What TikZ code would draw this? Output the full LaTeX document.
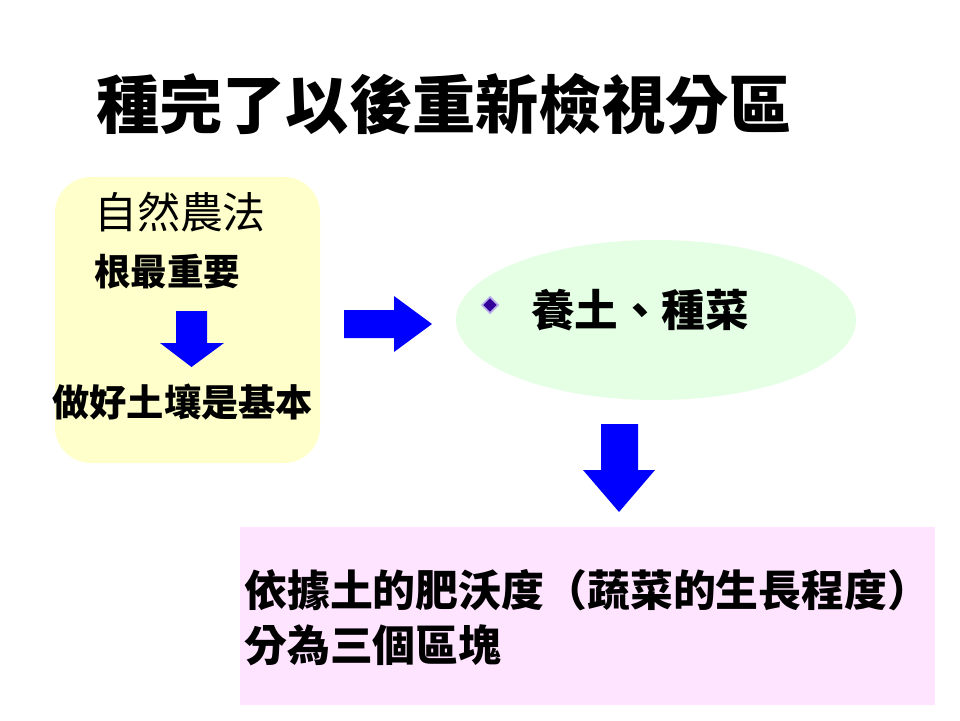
\documentclass[tikz,border=0pt]{standalone}
\usepackage{fontspec}
\usepackage{xcolor}
\usetikzlibrary{shapes.geometric}
\newfontfamily\cjk{Noto Sans CJK TC}
\definecolor{paleyellow}{RGB}{255,255,204}
\definecolor{palegreen}{RGB}{228,255,228}
\definecolor{palepink}{RGB}{255,228,255}
\definecolor{bulletfill}{RGB}{51,0,153}
\definecolor{bulletedge}{RGB}{185,175,235}

\begin{document}
\begin{tikzpicture}[
    every node/.style={font=\cjk},
    bigArrow/.style={fill=blue, draw=none},
    label/.style={font=\cjk\bfseries, inner sep=0pt}
]
\useasboundingbox (0,0) rectangle (24,18);

% title
\node[label, font=\cjk\bfseries\fontsize{45}{50}\selectfont] (title) at (11.1,15.4) {種完了以後重新檢視分區};

% left box
\node[rectangle, rounded corners=0.9cm, fill=paleyellow, minimum width=6.625cm, minimum height=7.15cm] (leftbox) at (4.6875,10) {};
\node[inner sep=0pt, font=\cjk\fontsize{30.5}{34}\selectfont] (natural) at (4.5,12.7) {自然農法};
\node[label, font=\cjk\bfseries\fontsize{26}{30}\selectfont] (root) at (4.18,11.2) {根最重要};
\node[label, font=\cjk\bfseries\fontsize{26.5}{30}\selectfont] (soil) at (4.57,7.95) {做好土壤是基本};
\fill[bigArrow] (4.4,10.225) -- (5.175,10.225) -- (5.175,9.425) -- (5.6,9.425)
    -- (4.7875,8.825) -- (4.0,9.425) -- (4.4,9.425) -- cycle;

% right arrow
\fill[bigArrow] (8.6,10.25) -- (9.85,10.25) -- (9.85,10.6) -- (10.8,9.9)
    -- (9.85,9.2) -- (9.85,9.55) -- (8.6,9.55) -- cycle;

% ellipse
\node[ellipse, fill=palegreen, minimum width=10cm, minimum height=4cm] (oval) at (16.4,10) {};
\node[diamond, fill=bulletfill, draw=bulletedge, line width=1.2pt, inner sep=0pt, minimum size=0.42cm] (bullet) at (12.25,10.375) {};
\node[label, font=\cjk\bfseries\fontsize{31}{34}\selectfont] (grow) at (16.0,10.25) {養土、種菜};

% down arrow
\fill[bigArrow] (15.025,7.4) -- (15.95,7.4) -- (15.95,6.25) -- (16.375,6.25)
    -- (15.475,5.2) -- (14.575,6.25) -- (15.025,6.25) -- cycle;

% bottom box
\node[rectangle, fill=palepink, minimum width=17.375cm, minimum height=4.45cm, anchor=south west] (bottombox) at (6.0,0.375) {};
\node[label, anchor=west, align=left, font=\cjk\bfseries\fontsize{30.5}{39}\selectfont] (zones) at (6.1,2.55) {依據土的肥沃度（蔬菜的生長程度）\\分為三個區塊};

\end{tikzpicture}
\end{document}
